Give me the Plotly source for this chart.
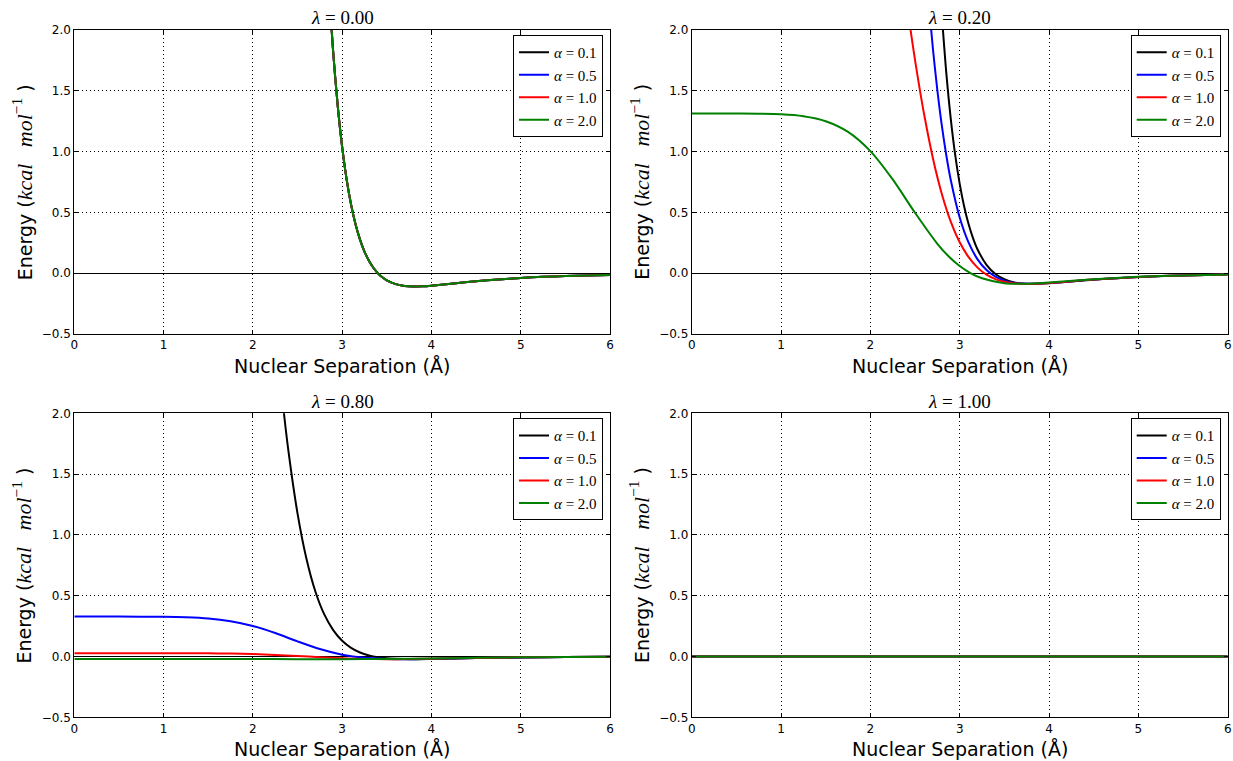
import plotly.graph_objects as go

# ---------------------------------------------------------------
# Soft-core Lennard-Jones energy curves (kcal/mol) vs separation (Å)
# ---------------------------------------------------------------

LAMBDAS = [0.00, 0.20, 0.80, 1.00]
ALPHAS = [0.1, 0.5, 1.0, 2.0]
COLORS = ["#000000", "#0000ff", "#ff0000", "#008000"]

# lambda = 0.00 : every alpha gives the plain LJ curve
R_L000 = [2.85, 2.9, 2.95, 3.0, 3.05, 3.1, 3.15, 3.2, 3.25, 3.3, 3.35, 3.4, 3.45,
          3.5, 3.6, 3.7, 3.8, 3.9, 4.0, 4.25, 4.5, 4.75, 5.0, 5.25, 5.5, 5.75, 6.0]
E_L000 = [2.375, 1.815, 1.378, 1.038, 0.772, 0.564, 0.402, 0.276, 0.178, 0.103, 0.045,
          0.0, -0.034, -0.059, -0.090, -0.105, -0.109, -0.108, -0.103, -0.085, -0.066,
          -0.051, -0.039, -0.030, -0.023, -0.018, -0.014]

# lambda = 0.20
R_L020_A01 = [2.8, 2.85, 2.9, 2.95, 3.0, 3.05, 3.1, 3.15, 3.2, 3.3, 3.4, 3.5, 3.6,
              3.75, 4.0, 4.5, 5.0, 5.5, 6.0]
E_L020_A01 = [2.123, 1.647, 1.270, 0.971, 0.735, 0.549, 0.402, 0.286, 0.195, 0.069,
              -0.007, -0.050, -0.074, -0.087, -0.082, -0.053, -0.031, -0.018, -0.011]

R_L020_A05 = [2.65, 2.7, 2.75, 2.8, 2.85, 2.9, 3.0, 3.1, 3.2, 3.3, 3.4, 3.5, 3.6,
              3.75, 4.0, 4.5, 5.0, 5.5, 6.0]
E_L020_A05 = [2.251, 1.847, 1.503, 1.213, 0.970, 0.766, 0.458, 0.251, 0.114, 0.026,
              -0.029, -0.061, -0.078, -0.087, -0.081, -0.052, -0.031, -0.018, -0.011]

R_L020_A10 = [2.4, 2.45, 2.5, 2.55, 2.6, 2.7, 2.8, 2.9, 3.0, 3.1, 3.2, 3.3, 3.4,
              3.5, 3.6, 3.75, 4.0, 4.5, 5.0, 5.5, 6.0]
E_L020_A10 = [2.260, 1.999, 1.753, 1.524, 1.313, 0.946, 0.652, 0.424, 0.254, 0.132,
              0.046, -0.012, -0.049, -0.071, -0.082, -0.088, -0.080, -0.052, -0.031,
              -0.018, -0.011]

R_L020_A20 = [0.0, 0.5, 1.0, 1.25, 1.5, 1.75, 2.0, 2.25, 2.5, 2.75, 2.875, 3.0,
              3.125, 3.25, 3.5, 3.75, 4.0, 4.5, 5.0, 5.5, 6.0]
E_L020_A20 = [1.313, 1.313, 1.307, 1.291, 1.250, 1.162, 1.004, 0.771, 0.497, 0.242,
              0.140, 0.059, -0.001, -0.042, -0.082, -0.087, -0.077, -0.050, -0.030,
              -0.018, -0.011]

# lambda = 0.80
R_L080_A01 = [2.3, 2.35, 2.4, 2.5, 2.6, 2.7, 2.8, 2.9, 3.0, 3.1, 3.2, 3.3, 3.4, 3.5,
              3.6, 3.75, 4.0, 4.5, 5.0, 5.5, 6.0]
E_L080_A01 = [2.333, 1.986, 1.680, 1.177, 0.804, 0.535, 0.346, 0.217, 0.129, 0.071,
              0.033, 0.009, -0.006, -0.015, -0.019, -0.022, -0.020, -0.013, -0.008,
              -0.005, -0.003]

R_L080_A05 = [0.0, 0.5, 1.0, 1.25, 1.5, 1.75, 2.0, 2.25, 2.5, 2.75, 3.0, 3.25, 3.5,
              3.75, 4.0, 4.5, 5.0, 5.5, 6.0]
E_L080_A05 = [0.328, 0.328, 0.327, 0.323, 0.313, 0.290, 0.251, 0.193, 0.124, 0.061,
              0.015, -0.011, -0.020, -0.022, -0.019, -0.013, -0.008, -0.005, -0.003]

R_L080_A10 = [0.0, 1.0, 1.5, 1.75, 2.0, 2.25, 2.5, 2.75, 3.0, 3.25, 3.5, 3.75, 4.0,
              4.5, 5.0, 5.5, 6.0]
E_L080_A10 = [0.027, 0.027, 0.026, 0.024, 0.020, 0.013, 0.004, -0.006, -0.015, -0.020,
              -0.022, -0.021, -0.018, -0.012, -0.007, -0.004, -0.003]

R_L080_A20 = [0.0, 1.0, 1.5, 2.0, 2.5, 3.0, 3.5, 4.0, 4.5, 5.0, 5.5, 6.0]
E_L080_A20 = [-0.021, -0.021, -0.021, -0.021, -0.022, -0.022, -0.020, -0.016, -0.011,
              -0.007, -0.004, -0.003]

# lambda = 1.00 : interaction fully switched off
R_L100 = [0.0, 6.0]
E_L100 = [0.0, 0.0]

X_TICKS = [0, 1, 2, 3, 4, 5, 6]
Y_TICKS = [-0.5, 0.0, 0.5, 1.0, 1.5, 2.0]

PANEL_SERIES = [
    [(R_L000, E_L000)] * 4,
    [(R_L020_A01, E_L020_A01), (R_L020_A05, E_L020_A05),
     (R_L020_A10, E_L020_A10), (R_L020_A20, E_L020_A20)],
    [(R_L080_A01, E_L080_A01), (R_L080_A05, E_L080_A05),
     (R_L080_A10, E_L080_A10), (R_L080_A20, E_L080_A20)],
    [(R_L100, E_L100)] * 4,
]

# ---------------------------------------------------------------
W, H = 1233, 761
SANS = "DejaVu Sans"
SERIF = "Liberation Serif"

# panel boxes in pixels: (left, right, top, bottom)
COLS = [(74.3, 610.0), (691.7, 1227.7)]
ROWS = [(30.0, 334.0), (413.3, 717.3)]


def px_x(p):
    return p / W


def px_y(p):
    return 1 - p / H


fig = go.Figure()
annotations = []

for k, lam in enumerate(LAMBDAS):
    row, col = divmod(k, 2)
    left, right = COLS[col]
    top, bottom = ROWS[row]
    xa = "x" if k == 0 else f"x{k + 1}"
    ya = "y" if k == 0 else f"y{k + 1}"
    leg = "legend" if k == 0 else f"legend{k + 1}"

    for (r, e), a, c in zip(PANEL_SERIES[k], ALPHAS, COLORS):
        fig.add_trace(go.Scatter(
            x=r, y=e, mode="lines",
            line=dict(color=c, width=2, shape="spline", smoothing=0.8),
            name=f"<i>α</i> = {a:.1f}",
            xaxis=xa, yaxis=ya, legend=leg, hoverinfo="skip",
        ))

    axis_common = dict(
        showline=True, linecolor="black", linewidth=1, mirror="allticks",
        ticks="inside", ticklen=4, tickwidth=1, tickcolor="black",
        showgrid=True, gridcolor="black", gridwidth=1, griddash="1px,3px",
        tickfont=dict(family=SANS, size=12, color="black"),
        automargin=False, fixedrange=True,
    )
    xkey = "xaxis" if k == 0 else f"xaxis{k + 1}"
    ykey = "yaxis" if k == 0 else f"yaxis{k + 1}"
    fig.update_layout({
        xkey: dict(axis_common, domain=[px_x(left), px_x(right)], range=[0, 6],
                   tickvals=X_TICKS, ticktext=[str(t) for t in X_TICKS],
                   zeroline=False, anchor=ya),
        ykey: dict(axis_common, domain=[px_y(bottom), px_y(top)], range=[-0.5, 2.0],
                   tickvals=Y_TICKS, tickformat=".1f",
                   zeroline=True, zerolinecolor="black", zerolinewidth=1,
                   anchor=xa),
        leg: dict(
            x=px_x(right - 7), y=px_y(top + 5), xanchor="right", yanchor="top",
            bgcolor="white", bordercolor="black", borderwidth=1,
            font=dict(family=SERIF, size=15, color="black"),
            tracegroupgap=0, entrywidth=56, entrywidthmode="pixels",
        ),
    })

    cx = (left + right) / 2
    # panel title
    annotations.append(dict(
        text=f"<i>λ</i> = {lam:.2f}", x=px_x(cx), y=px_y(top - 12),
        xref="paper", yref="paper", xanchor="center", yanchor="middle",
        showarrow=False, font=dict(family=SERIF, size=19, color="black"),
    ))
    # x-axis title
    annotations.append(dict(
        text="Nuclear Separation (Å)", x=px_x(cx), y=px_y(bottom + 32),
        xref="paper", yref="paper", xanchor="center", yanchor="middle",
        showarrow=False, font=dict(family=SANS, size=19, color="black"),
    ))
    # y-axis title
    annotations.append(dict(
        text=("Energy (<span style='font-family:Liberation Serif;font-size:22px'>"
              "<i>kcal\u00a0\u00a0\u00a0mol</i><sup>−1</sup></span> )"),
        x=px_x(left - 52), y=px_y((top + bottom) / 2),
        xref="paper", yref="paper", xanchor="center", yanchor="middle",
        textangle=-90, showarrow=False,
        font=dict(family=SANS, size=19, color="black"),
    ))

fig.update_layout(
    width=W, height=H,
    margin=dict(l=0, r=0, t=0, b=0),
    paper_bgcolor="white", plot_bgcolor="white",
    annotations=annotations,
    showlegend=True,
)

fig.write_html("out.html", config={"displayModeBar": False})
